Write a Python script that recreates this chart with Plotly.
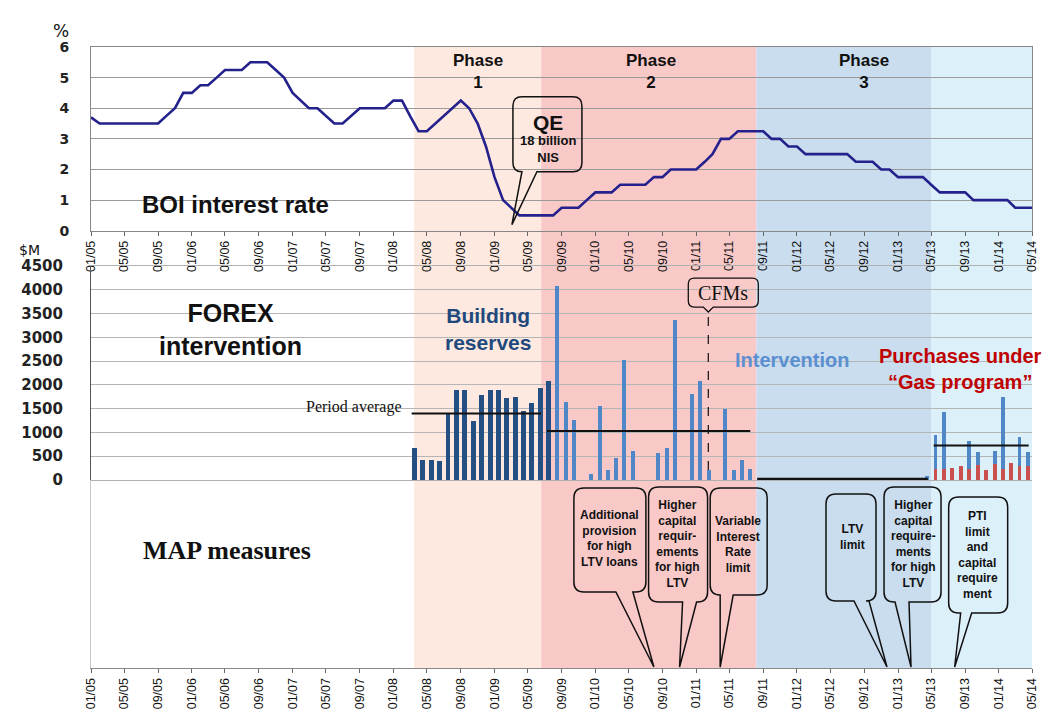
import pandas as pd
import plotly.graph_objects as go

# ── Data ──────────────────────────────────────────────────────────────────────

# Bank of Israel policy rate, monthly, Jan 2005 .. May 2014 (%)
boi_rate = [
    3.7, 3.5, 3.5, 3.5, 3.5, 3.5, 3.5, 3.5, 3.5, 3.75, 4.0, 4.5,          # 2005
    4.5, 4.75, 4.75, 5.0, 5.25, 5.25, 5.25, 5.5, 5.5, 5.5, 5.25, 5.0,     # 2006
    4.5, 4.25, 4.0, 4.0, 3.75, 3.5, 3.5, 3.75, 4.0, 4.0, 4.0, 4.0,        # 2007
    4.25, 4.25, 3.75, 3.25, 3.25, 3.5, 3.75, 4.0, 4.25, 4.0, 3.5, 2.75,   # 2008
    1.75, 1.0, 0.75, 0.5, 0.5, 0.5, 0.5, 0.5, 0.75, 0.75, 0.75, 1.0,      # 2009
    1.25, 1.25, 1.25, 1.5, 1.5, 1.5, 1.5, 1.75, 1.75, 2.0, 2.0, 2.0,      # 2010
    2.0, 2.25, 2.5, 3.0, 3.0, 3.25, 3.25, 3.25, 3.25, 3.0, 3.0, 2.75,     # 2011
    2.75, 2.5, 2.5, 2.5, 2.5, 2.5, 2.5, 2.25, 2.25, 2.25, 2.0, 2.0,       # 2012
    1.75, 1.75, 1.75, 1.75, 1.5, 1.25, 1.25, 1.25, 1.25, 1.0, 1.0, 1.0,   # 2013
    1.0, 1.0, 0.75, 0.75, 0.75,                                            # 2014
]
rate_months = pd.date_range("2005-01-01", periods=len(boi_rate), freq="MS")

# FX purchases, $M per month
reserve_buys = [680, 420, 420, 400, 1400, 1895, 1895, 1250, 1785, 1895,
                1895, 1720, 1740, 1450, 1610, 1940, 2090]
reserve_months = pd.date_range("2008-03-01", periods=len(reserve_buys), freq="MS")

intervention = [
    4070, 1650, 1265, 0, 125,                                         # Aug-Dec 2009
    1560, 210, 470, 2525, 610, 0, 0, 570, 680, 3370, 0, 1805,          # 2010
    2085, 205, 0, 1500, 205, 420, 225, 0, 0, 0, 0, 0,                  # 2011
    0, 0, 0, 0, 0, 0, 0, 0, 0, 0, 0, 0,                                # 2012
    0, 0, 0, 85,                                                       # Jan-Apr 2013
]
intervention_months = pd.date_range("2009-08-01", periods=len(intervention), freq="MS")

gas_program = [225, 225, 260, 295, 225, 315, 205, 330, 225, 360, 290, 290]
gas_intervention = [725, 1215, 0, 0, 605, 280, 0, 280, 1510, 0, 605, 290]
gas_months = pd.date_range("2013-05-01", periods=len(gas_program), freq="MS")

# period averages of FX purchases
avg_starts = ["2008-03-07", "2009-07-10", "2011-08-10", "2013-05-10"]
avg_ends = ["2009-06-18", "2011-07-16", "2013-04-19", "2014-04-19"]
avg_values = [1400, 1030, 15, 725]

# policy phases
phase_edges = ["2008-03-16", "2009-06-19", "2011-08-07", "2013-05-02", "2014-05-01"]
phase_fills = ["#FDE9DF", "#F9C9C8", "#C9DDEE", "#DCF0FA"]
phase_titles = ["Phase<br>1", "Phase<br>2", "Phase<br>3"]
phase_title_x = ["2008-11-01", "2010-07-20", "2012-09-01"]

qe_date = "2009-03-05"
cfm_date = "2011-02-14"

map_dates = ["2010-08-01", "2010-11-02", "2011-03-29", "2012-11-22", "2013-02-17", "2013-07-25"]
map_labels = [
    "Additional<br>provision<br>for high<br>LTV loans",
    "Higher<br>capital<br>requir-<br>ements<br>for high<br>LTV",
    "Variable<br>Interest<br>Rate<br>limit",
    "LTV<br>limit",
    "Higher<br>capital<br>require-<br>ments<br>for high<br>LTV",
    "PTI<br>limit<br>and<br>capital<br>require<br>ment",
]

# ── Styling ───────────────────────────────────────────────────────────────────

X_RANGE = ["2005-01-01", "2014-05-01"]
DARK_BLUE = "#244F82"
MID_BLUE = "#4F87C7"
GAS_RED = "#C9504F"
RATE_COLOR = "#24208C"
DAY_MS = 86400000

# callout geometry, px relative to the pointer tip:
# box left, right, bottom, top, tail base left/right, text dx, dy
MAP_BUBBLES = [
    (-80, -8, 76, 180, -38, -21, -44, 130),
    (-31, 28, 66, 181, 3, 17, -2, 124),
    (-10, 47, 73, 180, 0, 13, 18, 124),
    (-61, -11, 67, 174, -33, -18, -35, 131),
    (-27, 30, 66, 181, -16, -2, 2, 124),
    (-6, 53, 55, 171, 6, 17, 23, 113),
]

PLOT_L, PLOT_R, PLOT_T, PLOT_B = 91, 1032, 47, 668


def _paper(x, y):
    return (x - PLOT_L) / (PLOT_R - PLOT_L), (PLOT_B - y) / (PLOT_B - PLOT_T)


def bubble_path(l, r, b, t, tl, tr, tip=(0, 0), rad=10):
    tx, ty = tip
    return (f"M{l + rad},{t} L{r - rad},{t} Q{r},{t} {r},{t - rad} L{r},{b + rad} "
            f"Q{r},{b} {r - rad},{b} L{tr},{b} L{tx},{ty} L{tl},{b} L{l + rad},{b} "
            f"Q{l},{b} {l},{b + rad} L{l},{t - rad} Q{l},{t} {l + rad},{t} Z")


fig = go.Figure()

# 1. BOI rate
fig.add_trace(go.Scatter(
    x=rate_months, y=boi_rate, mode="lines",
    line=dict(color=RATE_COLOR, width=2.6),
    xaxis="x", yaxis="y", hoverinfo="skip",
))

# 2. FX purchases
fig.add_trace(go.Bar(
    x=reserve_months, y=reserve_buys, marker_color=DARK_BLUE, width=18 * DAY_MS,
    xperiod="M1", xperiodalignment="middle", xaxis="x2", yaxis="y2",
))
fig.add_trace(go.Bar(
    x=intervention_months, y=intervention, marker_color=MID_BLUE, width=14 * DAY_MS,
    xperiod="M1", xperiodalignment="middle", xaxis="x2", yaxis="y2",
))
fig.add_trace(go.Bar(
    x=gas_months, y=gas_program, marker_color=GAS_RED, width=14 * DAY_MS,
    xperiod="M1", xperiodalignment="middle", xaxis="x2", yaxis="y2",
))
fig.add_trace(go.Bar(
    x=gas_months, y=gas_intervention, marker_color=MID_BLUE, width=14 * DAY_MS,
    xperiod="M1", xperiodalignment="middle", xaxis="x2", yaxis="y2",
))
for x0, x1, v in zip(avg_starts, avg_ends, avg_values):
    fig.add_trace(go.Scatter(
        x=[x0, x1], y=[v, v], mode="lines",
        line=dict(color="#111", width=3 if v < 100 else 2),
        xaxis="x2", yaxis="y2", hoverinfo="skip",
    ))

# 3. MAP measure dates (anchor for the bottom panel)
fig.add_trace(go.Scatter(
    x=map_dates, y=[0] * len(map_dates), mode="markers", marker=dict(opacity=0),
    xaxis="x3", yaxis="y3", hoverinfo="skip",
))

# phase shading over all three panels
for x0, x1, col in zip(phase_edges[:-1], phase_edges[1:], phase_fills):
    fig.add_shape(type="rect", xref="x", yref="paper", x0=x0, x1=x1, y0=0, y1=1,
                  fillcolor=col, line_width=0, layer="below")

for txt, xd in zip(phase_titles, phase_title_x):
    fig.add_annotation(x=xd, y=5.2, xref="x", yref="y", text=f"<b>{txt}</b>",
                       showarrow=False, font=dict(size=17, color="#111"))

# QE callout
fig.add_shape(type="path", xref="x", yref="y", xsizemode="pixel", ysizemode="pixel",
              xanchor=qe_date, yanchor=0,
              path=bubble_path(1, 70, 59, 134, 10, 25, tip=(0, 6), rad=9),
              line=dict(color="#111", width=1.5))
fig.add_annotation(x=qe_date, y=0, xref="x", yref="y", xshift=36, yshift=108,
                   text="<b>QE</b>", showarrow=False, font=dict(size=21, color="#111"))
fig.add_annotation(x=qe_date, y=0, xref="x", yref="y", xshift=36, yshift=82,
                   text="<b>18 billion<br>NIS</b>", showarrow=False,
                   font=dict(size=13, color="#111"))

# CFMs callout
fig.add_shape(type="line", xref="x2", yref="y2", xsizemode="pixel", ysizemode="pixel",
              xanchor=cfm_date, yanchor=0, x0=0, x1=0, y0=10, y1=168,
              line=dict(color="#111", width=1.2, dash="dash"))
fig.add_shape(type="path", xref="x2", yref="y2", xsizemode="pixel", ysizemode="pixel",
              xanchor=cfm_date, yanchor=0,
              path=bubble_path(-20, 50, 173, 202, -5, 5, tip=(0, 168), rad=6),
              line=dict(color="#111", width=1.3))
fig.add_annotation(x=cfm_date, y=0, xref="x2", yref="y2", xshift=15, yshift=187,
                   text="CFMs", showarrow=False,
                   font=dict(family="Liberation Serif, Times New Roman, serif", size=20, color="#111"))

# MAP callouts
for d, label, (l, r, b, t, tl, tr, tdx, tdy) in zip(map_dates, map_labels, MAP_BUBBLES):
    fig.add_shape(type="path", xref="x3", yref="y3", xsizemode="pixel", ysizemode="pixel",
                  xanchor=d, yanchor=0,
                  path=bubble_path(l, r, b, t, tl, tr, tip=(0, 1), rad=10),
                  line=dict(color="#111", width=1.5))
    fig.add_annotation(x=d, y=0, xref="x3", yref="y3", xshift=tdx, yshift=tdy,
                       text=f"<b>{label}</b>", showarrow=False,
                       font=dict(size=12, color="#111"))

# free text labels (pixel positions converted to paper)
def _label(text, x, y, size, color="#111", family=None, xanchor="center"):
    px, py = _paper(x, y)
    font = dict(size=size, color=color)
    if family:
        font["family"] = family
    fig.add_annotation(x=px, y=py, xref="paper", yref="paper", text=text,
                       showarrow=False, xanchor=xanchor, font=font)


SERIF = "Liberation Serif, Times New Roman, serif"
WIDE = "DejaVu Sans, Verdana, sans-serif"
_label("%", 61, 19, 17, family=WIDE)
_label("$M", 30, 240, 14, family=WIDE)
_label("<b>BOI interest rate</b>", 235, 189, 24)
_label("<b>FOREX<br>intervention</b>", 230, 329, 25)
_label("<b>MAP measures</b>", 227, 567, 26, family=SERIF)
_label("Period average", 404, 407, 16, family=SERIF, xanchor="right")
_label("<b>Building<br>reserves</b>", 488, 329, 21, color="#1F497D")
_label("<b>Intervention</b>", 792, 360, 20, color="#5B8FD0")
_label("<b>Purchases under<br>\u201cGas program\u201d</b>", 960, 369, 20, color="#C00000")

tick_x = dict(
    type="date", range=X_RANGE, tickformat="%m/%y", dtick="M4", tick0="2005-01-01",
    tickangle=-90, ticks="outside", ticklen=4, tickcolor="#666", showgrid=False,
    tickfont=dict(size=12.5, color="#111"), automargin=False,
)
fig.update_layout(
    template="none",
    width=1051, height=709,
    margin=dict(l=PLOT_L, r=1051 - PLOT_R, t=PLOT_T, b=709 - PLOT_B),
    paper_bgcolor="white", plot_bgcolor="rgba(0,0,0,0)",
    showlegend=False, barmode="stack", bargap=0,
    font=dict(family="Liberation Sans, Arial, sans-serif", color="#111"),
    xaxis=dict(**tick_x, anchor="y", showline=True, linecolor="#888", mirror=True),
    xaxis2=dict(type="date", range=X_RANGE, matches="x", anchor="y2", showticklabels=False,
                ticks="", showgrid=False, showline=True, linecolor="#b0b0b0", mirror=True,
                automargin=False),
    xaxis3=dict(**tick_x, matches="x", anchor="y3", showline=True, linecolor="#888"),
    yaxis=dict(domain=[0.7042, 1], range=[0, 6], dtick=1, showgrid=True, gridcolor="#9a9a9a",
               showline=True, linecolor="#888", mirror=True, zeroline=False, ticks="",
               tickfont=dict(family=WIDE, size=14, weight="bold", color="#222"),
               ticklabelstandoff=18, automargin=False),
    yaxis2=dict(domain=[0.3027, 0.6473], range=[0, 4500], dtick=500, showgrid=True,
                gridcolor="#b5b5b5", showline=True, linecolor="#555", zeroline=False,
                ticks="", tickfont=dict(family=WIDE, size=15, weight="bold", color="#222"),
                ticklabelstandoff=24, automargin=False),
    yaxis3=dict(domain=[0, 0.3027], range=[0, 1], showgrid=False, showticklabels=False,
                showline=True, linecolor="#c8c8c8", zeroline=False, ticks="",
                automargin=False),
)

# page body margin would shift the fixed-size figure out of the window
fig.write_html("out.html", config={"displayModeBar": False},
               post_script="document.body.style.margin='0';document.body.style.overflow='hidden';")
